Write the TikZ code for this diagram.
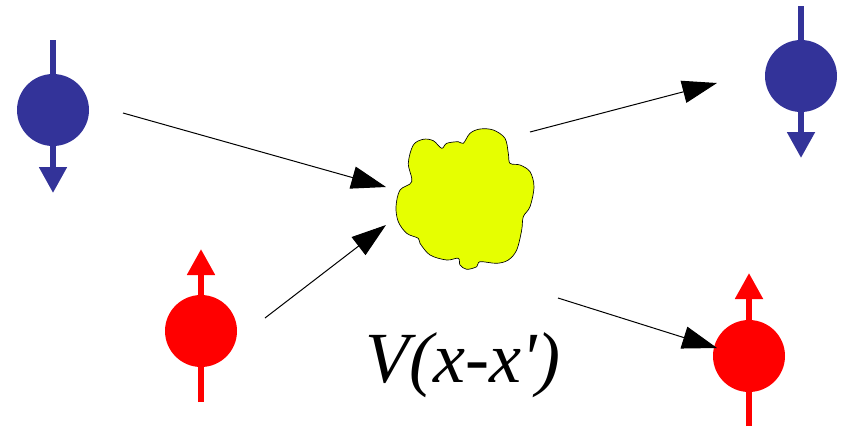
\documentclass[tikz,border=0pt]{standalone}
\usepackage{fontspec}
\setmainfont{Liberation Serif}
\newfontfamily\potfont{LiberationSerif-Italic}[Extension=.ttf]
\usetikzlibrary{arrows.meta}
\definecolor{spinblue}{HTML}{333399}
\definecolor{spinred}{HTML}{FF0000}
\definecolor{blobyellow}{HTML}{E6FF00}
\tikzset{
  ball/.style={circle,inner sep=0pt,minimum size=54pt},
  spin/.style={line width=4.5pt,-{Triangle[length=19.5pt,width=20pt]}},
  flow/.style={line width=0.75pt,-{Triangle[length=26pt,width=17pt]}},
}
\begin{document}
\begin{tikzpicture}[x=0.75pt,y=-0.75pt]
    \useasboundingbox (0,0) rectangle (842,426);
    \coordinate (bin-top) at (53,40);
    \coordinate (bin-tip) at (53,193);
    \coordinate (rin-bot) at (201,402);
    \coordinate (rin-tip) at (201,249);
    \coordinate (bout-top) at (801,6);
    \coordinate (bout-tip) at (801,158);
    \coordinate (rout-bot) at (749,426);
    \coordinate (rout-tip) at (749,273);
    \draw[spin,spinblue] (bin-top) -- (bin-tip);
    \draw[spin,spinred] (rin-bot) -- (rin-tip);
    \draw[spin,spinblue] (bout-top) -- (bout-tip);
    \draw[spin,spinred] (rout-bot) -- (rout-tip);
    \node[ball,fill=spinblue] (bin) at (53,110) {};
    \node[ball,fill=spinred] (rin) at (201,331) {};
    \node[ball,fill=spinblue] (bout) at (801,76) {};
    \node[ball,fill=spinred] (rout) at (749,356) {};
    \draw[fill=blobyellow,line width=0.5pt] plot[smooth cycle,tension=0.55] coordinates {
      (411.7,181.7) (408.3,163.3) (413.3,145) (423.3,139.3) (433.3,140.7)
      (441.7,148.3) (446.7,143.3) (458.3,141.7) (463.3,143.3) (470,133.3)
      (480,129) (493.3,130) (505,138.3) (508.3,153.3) (510,163.3)
      (520,165) (530,171.7) (534,186.7) (530,206.7) (523.3,216.7)
      (521.7,230) (516.7,250) (508.3,260) (496.7,263.3) (480,261.7)
      (476.7,266.7) (466.7,269.3) (460,265) (458.3,258.3) (446.7,260)
      (430,255) (420,243.3) (418.3,238.3) (406.7,233.3) (398.3,221.7)
      (396,206.7) (400,190)};
    \coordinate (in1) at (123,113);
    \coordinate (in1e) at (386,187);
    \coordinate (in2) at (265,318);
    \coordinate (in2e) at (386,225);
    \coordinate (out1) at (530,132);
    \coordinate (out1e) at (717,83);
    \coordinate (out2) at (558,298);
    \coordinate (out2e) at (717,348);
    \draw[flow] (in1) -- (in1e);
    \draw[flow] (in2) -- (in2e);
    \draw[flow] (out1) -- (out1e);
    \draw[flow] (out2) -- (out2e);
    \node[anchor=base,font=\potfont\fontsize{54}{60}\selectfont] (pot) at (463,382) {V(x-x\textquotesingle)};
\end{tikzpicture}
\end{document}
